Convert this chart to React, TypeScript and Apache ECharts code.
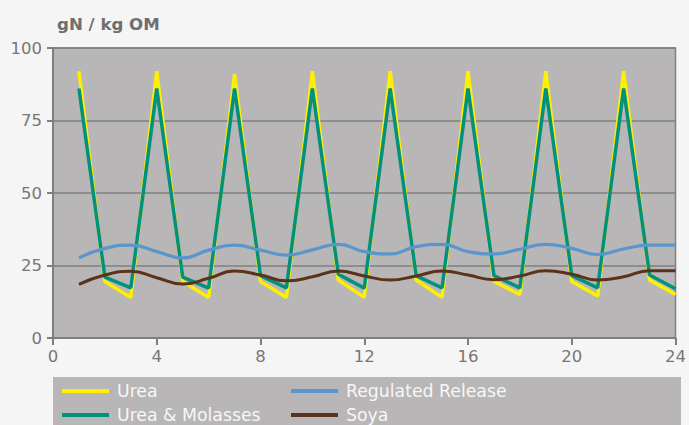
import React, { useEffect, useRef } from "react";
import * as echarts from "echarts";

const hours = [1, 2, 3, 4, 5, 6, 7, 8, 9, 10, 11, 12, 13, 14, 15, 16, 17, 18, 19, 20, 21, 22, 23, 24];
const urea = [92, 19.5, 14, 92, 19.5, 14, 91, 19.5, 14, 92, 20, 14, 92, 20, 14, 92, 19.5, 15, 92, 19.5, 14.5, 92, 20, 15];
const ureaMolasses = [86, 21, 17.3, 86, 21, 17.2, 86, 21.5, 17.3, 86, 22, 17.2, 86, 21.5, 17.3, 86, 21.5, 17.3, 86, 21.5, 17.3, 86, 21.7, 17];
const regulatedRelease = [27.6, 30.9, 32, 29.8, 27.6, 30.3, 32, 30.3, 28.6, 30.4, 32.3, 29.8, 29, 31.5, 32.3, 29.8, 29, 30.6, 32.3, 30.9, 28.8, 30.7, 32, 32];
const soya = [18.5, 21.7, 23, 20.8, 18.6, 20.6, 23.1, 21.7, 19.7, 21.1, 23.1, 21.4, 20, 21.4, 23.1, 21.7, 20.1, 21.4, 23.2, 22, 20, 21.1, 23.2, 23.2];

const seriesNames = ["Urea", "Urea & Molasses", "Regulated Release", "Soya"];
const seriesColors = ["#fff000", "#00927d", "#5a96cb", "#5b3318"];
const xTicks = { min: 0, max: 24, interval: 4 };
const yTicks = { min: 0, max: 100, interval: 25 };
const titleText = "gN / kg OM";

const pair = (vals: number[]) => hours.map((h, i) => [h, vals[i]]);

export default function App() {
  const ref = useRef<HTMLDivElement>(null);
  useEffect(() => {
    if (!ref.current) return;
    const chart = echarts.init(ref.current, null, { renderer: "svg" });
    const axisGrey = "#7f7f7f";
    const labelGrey = "#777777";
    const makeLegend = (names: string[], left: number) => ({
      data: names,
      orient: "vertical",
      left,
      top: 381,
      height: 60,
      padding: 0,
      itemGap: 4,
      itemWidth: 47,
      itemHeight: 4,
      icon: "rect",
      textStyle: { color: "#f7f7f7", fontSize: 17.3, fontFamily: "DejaVu Sans", lineHeight: 20, padding: [0, 0, 0, 3] },
    });
    chart.setOption({
      animation: false,
      backgroundColor: "#f5f5f5",
      title: {
        text: titleText,
        left: 57,
        top: 16,
        padding: 0,
        textStyle: { color: "#6e6e6e", fontSize: 16.6, fontWeight: "bold", fontFamily: "DejaVu Sans" },
      },
      grid: {
        left: 53,
        right: 8,
        top: 48,
        bottom: 87,
        show: true,
        backgroundColor: "#b8b6b6",
        borderColor: axisGrey,
        borderWidth: 1.5,
      },
      graphic: [
        {
          type: "rect",
          shape: { x: 53, y: 377, width: 628, height: 60 },
          style: { fill: "#b8b6b6" },
          silent: true,
          z: -1,
        },
      ],
      legend: [makeLegend([seriesNames[0], seriesNames[1]], 62), makeLegend([seriesNames[2], seriesNames[3]], 291)],
      xAxis: {
        type: "value",
        min: xTicks.min,
        max: xTicks.max,
        interval: xTicks.interval,
        axisLine: { show: true, lineStyle: { color: axisGrey, width: 2 } },
        axisTick: { show: true, length: 7, lineStyle: { color: axisGrey, width: 2 } },
        axisLabel: { color: labelGrey, fontSize: 16.5, fontFamily: "DejaVu Sans", margin: 10 },
        splitLine: { show: false },
      },
      yAxis: {
        type: "value",
        min: yTicks.min,
        max: yTicks.max,
        interval: yTicks.interval,
        axisLine: { show: true, lineStyle: { color: axisGrey, width: 2 } },
        axisTick: { show: true, length: 6, lineStyle: { color: axisGrey, width: 2 } },
        axisLabel: { color: labelGrey, fontSize: 16.5, fontFamily: "DejaVu Sans", margin: 11 },
        splitLine: { show: true, lineStyle: { color: axisGrey, width: 1.5 } },
      },
      series: [
        { name: seriesNames[0], type: "line", data: pair(urea), color: seriesColors[0], symbol: "none", lineStyle: { width: 3.5, color: seriesColors[0] } },
        { name: seriesNames[1], type: "line", data: pair(ureaMolasses), color: seriesColors[1], symbol: "none", lineStyle: { width: 3.5, color: seriesColors[1] } },
        { name: seriesNames[2], type: "line", data: pair(regulatedRelease), color: seriesColors[2], symbol: "none", smooth: 0.5, lineStyle: { width: 3.2, color: seriesColors[2] } },
        { name: seriesNames[3], type: "line", data: pair(soya), color: seriesColors[3], symbol: "none", smooth: 0.5, lineStyle: { width: 3, color: seriesColors[3] } },
      ],
    });
    return () => chart.dispose();
  }, []);
  return <div ref={ref} style={{ position: "fixed", left: 0, top: 0, width: 689, height: 425 }} />;
}
